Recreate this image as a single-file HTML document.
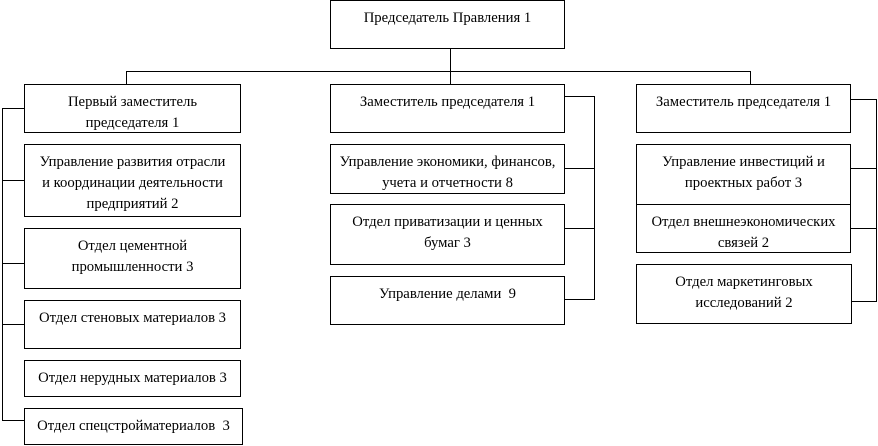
<!DOCTYPE html>
<html><head><meta charset="utf-8"><style>
body{margin:0;width:878px;height:446px;background:#fff;position:relative;overflow:hidden;font-family:"Liberation Serif",serif;font-size:14.7px;color:#000}
.b{position:absolute;box-sizing:border-box;border:1px solid #000;text-align:center;line-height:21px;padding-top:7px;background:#fff;white-space:nowrap}
svg{position:absolute;left:0;top:0}
</style></head><body>
<svg width="878" height="446"><g stroke="#000" stroke-width="1" fill="none">
<path d="M450.5 48V84M126.5 84V71.5H750.5V84"/>
<path d="M24 108.5H2.5V420.5H24M2.5 180.5H24M2.5 263.5H24M2.5 324.5H24"/>
<path d="M564 96.5H594.5V299.5H564M564 168.5H594M564 228.5H594"/>
<path d="M850 99.5H876.5V301.5H850M850 168.5H876M850 228.5H876"/>
</g></svg>
<div class="b" style="left:330px;top:0;width:235px;height:49px">Председатель Правления 1</div>
<div class="b" style="left:24px;top:84px;width:217px;height:49px">Первый заместитель<br>председателя 1</div>
<div class="b" style="left:24px;top:144px;width:217px;height:73px">Управление развития отрасли<br>и координации деятельности<br>предприятий 2</div>
<div class="b" style="left:24px;top:228px;width:217px;height:61px">Отдел цементной<br>промышленности 3</div>
<div class="b" style="left:24px;top:300px;width:217px;height:49px">Отдел стеновых материалов 3</div>
<div class="b" style="left:24px;top:360px;width:217px;height:37px">Отдел нерудных материалов 3</div>
<div class="b" style="left:24px;top:408px;width:219px;height:37px">Отдел спецстройматериалов &nbsp;3</div>
<div class="b" style="left:330px;top:84px;width:235px;height:49px">Заместитель председателя 1</div>
<div class="b" style="left:330px;top:144px;width:235px;height:50px">Управление экономики, финансов,<br>учета и отчетности 8</div>
<div class="b" style="left:330px;top:204px;width:235px;height:61px">Отдел приватизации и ценных<br>бумаг 3</div>
<div class="b" style="left:330px;top:276px;width:235px;height:49px">Управление делами &nbsp;9</div>
<div class="b" style="left:636px;top:84px;width:215px;height:49px">Заместитель председателя 1</div>
<div class="b" style="left:636px;top:144px;width:215px;height:61px">Управление инвестиций и<br>проектных работ 3</div>
<div class="b" style="left:636px;top:204px;width:215px;height:49px">Отдел внешнеэкономических<br>связей 2</div>
<div class="b" style="left:636px;top:264px;width:216px;height:60px">Отдел маркетинговых<br>исследований 2</div>
</body></html>
